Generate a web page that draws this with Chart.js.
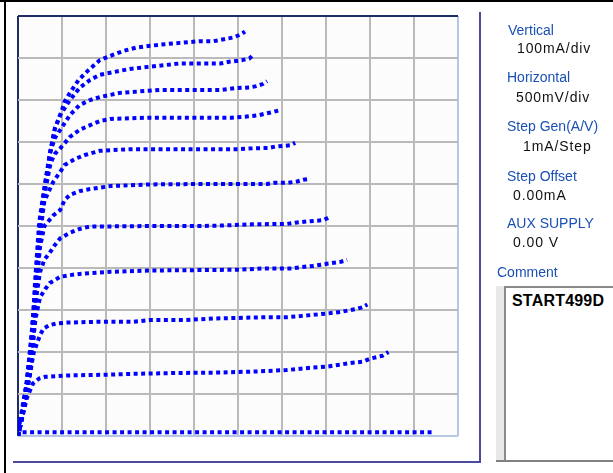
<!DOCTYPE html>
<html>
<head>
<meta charset="utf-8">
<script src="https://cdn.jsdelivr.net/npm/chart.js@4.4.0/dist/chart.umd.min.js"></script>
<style>
	body { margin: 0; width: 613px; height: 473px; overflow: hidden; position: relative; background: #fff; font-family: "Liberation Sans", Arial, sans-serif; }
	.abs { position: absolute; }
	#frameTop { left: 0; top: 0; width: 613px; height: 2px; background: #000; }
	#frameLeft { left: 4px; top: 0; width: 2px; height: 473px; background: #000; }
	#panelV { left: 479px; top: 12px; width: 2px; height: 451px; background: #4b4b9e; }
	#panelH { left: 13px; top: 461px; width: 468px; height: 2px; background: #4b4b9e; }
	#plotBg { left: 18px; top: 16px; width: 440px; height: 420px; background: #fcfcfc; }
	#chartCanvas { position: absolute; left: 0; top: 0; }
	.lbl { position: absolute; font-size: 14px; line-height: 16px; color: #1a50b4; white-space: nowrap; }
	.val { position: absolute; font-size: 14px; line-height: 16px; color: #111; white-space: nowrap; letter-spacing: 0.9px; }
	#commentBox { left: 496px; top: 286px; width: 117px; height: 174px; background: #e8e8e8; border-bottom: 2px solid #808080; }
	#commentInner { left: 8px; top: 0; width: 109px; height: 174px; background: #fff; border-left: 2px solid #8a8a8a; border-top: 2px solid #8a8a8a; box-sizing: border-box; }
	#commentText { left: 6px; top: 4px; font-size: 16px; font-weight: bold; color: #000; letter-spacing: 0.2px; }
</style>
</head>
<body>
<div class="abs" id="plotBg"></div>
<canvas id="chartCanvas" width="613" height="473"></canvas>
<div class="abs" id="frameTop"></div>
<div class="abs" id="frameLeft"></div>
<div class="abs" id="panelV"></div>
<div class="abs" id="panelH"></div>

<div class="lbl" style="left:508px; top:22px;">Vertical</div>
<div class="val" style="left:517px; top:40px;">100mA/div</div>
<div class="lbl" style="left:507px; top:69px;">Horizontal</div>
<div class="val" style="left:516px; top:89px;">500mV/div</div>
<div class="lbl" style="left:507px; top:118px;">Step Gen(A/V)</div>
<div class="val" style="left:523px; top:138px;">1mA/Step</div>
<div class="lbl" style="left:507px; top:168px;">Step Offset</div>
<div class="val" style="left:513px; top:187px;">0.00mA</div>
<div class="lbl" style="left:507px; top:215px;">AUX SUPPLY</div>
<div class="val" style="left:513px; top:234px;">0.00 V</div>
<div class="lbl" style="left:497px; top:264px;">Comment</div>
<div class="abs" id="commentBox">
	<div class="abs" id="commentInner">
		<div class="abs" id="commentText">START499D</div>
	</div>
</div>

<script>
// ===== SCALE SETTINGS =====
const voltsPerDiv = 0.5;
const mAPerDiv = 100;
const divisions = 10;

// ===== TRACES (volts, mA) =====
const trace0 = [[0.02, 38], [0.02, 9], [4.72, 9]];
const trace1 = [[0, 0], [0.05, 45], [0.1, 90], [0.17, 125], [0.24, 137], [0.31, 141], [0.55, 144], [1.0, 146], [1.3, 148], [1.8, 150], [2.3, 151], [2.75, 154], [3.05, 157], [3.3, 162], [3.51, 165], [3.78, 174], [3.92, 177], [4.0, 184], [4.14, 191], [4.21, 200]];
const trace2 = [[0, 0], [0.06, 60], [0.12, 130], [0.18, 200], [0.25, 240], [0.29, 256], [0.36, 264], [0.44, 268], [0.55, 270], [0.93, 272], [1.31, 272], [1.5, 276], [1.88, 276], [2.26, 280], [2.87, 283], [3.06, 283], [3.23, 286], [3.38, 289], [3.53, 292], [3.68, 296], [3.83, 302], [3.91, 306], [3.97, 313]];
const trace3 = [[0, 0], [0.05, 50], [0.1, 110], [0.15, 190], [0.2, 280], [0.25, 330], [0.31, 350], [0.36, 364], [0.48, 379], [0.59, 383], [0.7, 386], [1.05, 391], [1.5, 394], [2.07, 395], [2.52, 396], [2.79, 399], [3.11, 399], [3.21, 402], [3.36, 405], [3.51, 410], [3.67, 415], [3.74, 419]];
const trace4 = [[0, 0], [0.05, 50], [0.1, 120], [0.15, 210], [0.2, 320], [0.25, 390], [0.3, 420], [0.36, 436], [0.42, 455], [0.48, 471], [0.59, 484], [0.7, 493], [0.82, 499], [1.05, 499], [1.5, 500], [2.07, 500], [2.3, 501], [2.66, 504], [3.06, 505], [3.15, 508], [3.3, 511], [3.47, 514], [3.53, 520]];
const trace5 = [[0, 0], [0.05, 50], [0.1, 130], [0.15, 230], [0.2, 340], [0.25, 450], [0.3, 500], [0.4, 525], [0.48, 538], [0.53, 562], [0.59, 574], [0.7, 583], [0.82, 588], [1.05, 595], [1.5, 599], [2.07, 600], [2.83, 600], [2.92, 603], [3.07, 603], [3.17, 606], [3.24, 610], [3.31, 612]];
const trace6 = [[0, 0], [0.05, 50], [0.1, 130], [0.15, 230], [0.2, 360], [0.25, 480], [0.3, 560], [0.4, 605], [0.48, 629], [0.53, 645], [0.65, 660], [0.76, 669], [0.93, 679], [1.27, 683], [2.52, 683], [2.68, 685], [2.85, 686], [2.92, 689], [3.09, 692], [3.15, 698]];
const trace7 = [[0, 0], [0.03, 26], [0.09, 93], [0.146, 157], [0.181, 245], [0.215, 371], [0.26, 507], [0.317, 593], [0.37, 650], [0.42, 672], [0.48, 685], [0.59, 712], [0.7, 729], [0.82, 740], [0.93, 750], [1.05, 755], [1.5, 758], [2.43, 758], [2.58, 760], [2.74, 764], [2.82, 768], [2.91, 772], [2.96, 775]];
const trace8 = [[0, 0], [0.015, 26], [0.07, 93], [0.126, 157], [0.161, 245], [0.195, 371], [0.24, 507], [0.3, 593], [0.364, 674], [0.42, 710], [0.48, 729], [0.59, 764], [0.7, 788], [0.82, 800], [0.93, 807], [1.16, 817], [1.61, 824], [2.3, 824], [2.46, 828], [2.63, 830], [2.71, 833], [2.78, 838], [2.83, 845]];
const trace9 = [[0, 0], [0.023, 26], [0.08, 93], [0.136, 157], [0.171, 245], [0.205, 371], [0.25, 507], [0.307, 593], [0.364, 674], [0.421, 733], [0.48, 764], [0.59, 800], [0.7, 829], [0.82, 848], [0.93, 860], [1.27, 874], [1.84, 887], [2.3, 887], [2.4, 891], [2.55, 895], [2.63, 899], [2.67, 907]];
const trace10 = [[0, 0], [0.023, 26], [0.08, 93], [0.136, 157], [0.171, 245], [0.205, 371], [0.25, 507], [0.307, 593], [0.364, 674], [0.42, 733], [0.5, 776], [0.53, 796], [0.59, 817], [0.69, 848], [0.8, 871], [0.93, 895], [1.07, 907], [1.2, 917], [1.35, 925], [1.5, 929], [1.67, 933], [1.84, 936], [2.07, 940], [2.22, 940], [2.3, 943], [2.45, 949], [2.53, 956], [2.58, 963]];

const traces = [trace0, trace1, trace2, trace3, trace4, trace5, trace6, trace7, trace8, trace9, trace10];

// ===== CHART =====
const gridGray = '#bababa';
const edgeNavy = '#1e2c6a';
const edgeLight = '#b7c6e2';

const ctx = document.getElementById('chartCanvas').getContext('2d');

new Chart(ctx, {
	type: 'scatter',
	data: {
		datasets: traces.map(t => ({
			data: t.map(p => ({ x: p[0], y: p[1] })),
			showLine: true,
			borderColor: '#0000ff',
			borderWidth: 4,
			borderDash: [4, 3.5],
			borderCapStyle: 'butt',
			pointRadius: 0,
			tension: 0
		}))
	},
	options: {
		responsive: false,
		animation: false,
		layout: { padding: { left: 18, top: 16, right: 155, bottom: 37 } },
		plugins: { legend: { display: false }, tooltip: { enabled: false } },
		scales: {
			x: {
				type: 'linear',
				min: 0,
				max: voltsPerDiv * divisions,
				ticks: { display: false, stepSize: voltsPerDiv },
				border: { display: false },
				grid: {
					drawTicks: false,
					lineWidth: 2,
					color: c => c.index === 0 ? edgeNavy : (c.index === divisions ? edgeLight : gridGray)
				}
			},
			y: {
				type: 'linear',
				min: 0,
				max: mAPerDiv * divisions,
				ticks: { display: false, stepSize: mAPerDiv },
				border: { display: false },
				grid: {
					drawTicks: false,
					lineWidth: 2,
					color: c => c.index === 0 ? edgeLight : (c.index === divisions ? edgeNavy : gridGray)
				}
			}
		}
	}
});
</script>
</body>
</html>
